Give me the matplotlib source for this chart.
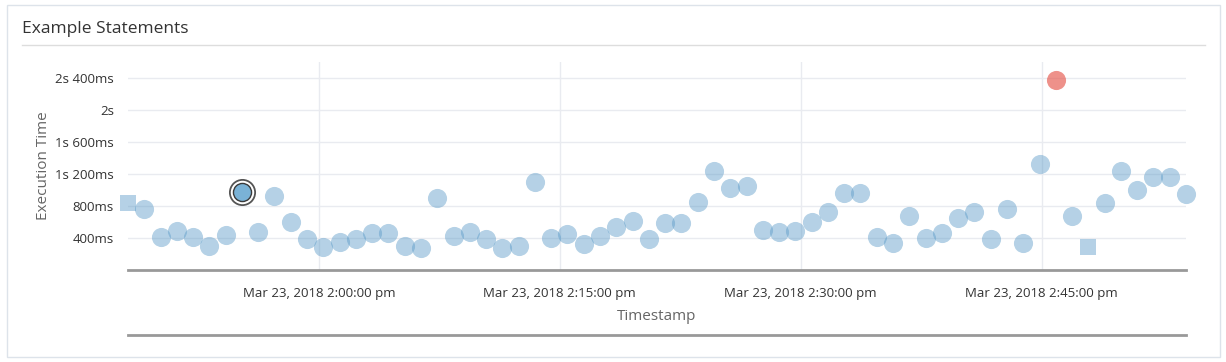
import datetime as dt
import matplotlib
matplotlib.use("Agg")
import matplotlib.pyplot as plt
import matplotlib.dates as mdates
from matplotlib.ticker import FuncFormatter
from matplotlib.lines import Line2D
from matplotlib.patches import Rectangle

plt.rcParams["font.family"] = ["Open Sans", "DejaVu Sans"]

# execution times (ms), one statement roughly every minute
start = dt.datetime(2018, 3, 23, 13, 48, 7)
step_s = 60.8
exec_ms = [834, 766, 417, 492, 417, 304, 442, 979, 471, 929,
           604, 383, 292, 354, 388, 458, 467, 304, 279, 904,
           429, 479, 383, 279, 304, 1104, 404, 446, 325, 429,
           533, 617, 392, 583, 592, 854, 1242, 1029, 1050, 500,
           479, 492, 596, 729, 958, 958, 417, 337, 679, 404,
           467, 646, 721, 383, 758, 342, 1325, 2370, 679, 292,
           842, 1242, 1000, 1167, 1167, 946]
square_idx = [0, 59]
selected_idx = 7
outlier_idx = 57

y_ticks = [400, 800, 1200, 1600, 2000, 2400]
x_ticks = [dt.datetime(2018, 3, 23, 14, m) for m in (0, 15, 30, 45)]

times = [start + dt.timedelta(seconds=step_s * i) for i in range(len(exec_ms))]

fig = plt.figure(figsize=(12.26, 3.62), dpi=100)

# card frame + title
fig.add_artist(Rectangle((7 / 1226, 5 / 362), 1213 / 1226, 352 / 362,
                         transform=fig.transFigure, fill=False,
                         edgecolor="#dde3ea", lw=1))
fig.text(22 / 1226, 1 - 29 / 362, "Example Statements", fontsize=12.5,
         color="#333333", va="center", ha="left")
fig.add_artist(Line2D([22 / 1226, 1205 / 1226], [1 - 45 / 362] * 2,
                      transform=fig.transFigure, color="#dddddd", lw=1))

ax = fig.add_axes([128 / 1226, 1 - 270 / 362, 1058 / 1226, 208 / 362])

blue = "#5b9bc8"
special = square_idx + [selected_idx, outlier_idx]
circ_t = [times[i] for i in range(len(times)) if i not in special]
circ_v = [exec_ms[i] for i in range(len(times)) if i not in special]
ax.scatter(circ_t, circ_v, s=190, color=blue, alpha=0.45, linewidths=0, zorder=3, clip_on=False)
ax.scatter([times[i] for i in square_idx], [exec_ms[i] for i in square_idx], s=135, marker="s",
           color=blue, alpha=0.45, linewidths=0, zorder=3, clip_on=False)
ax.scatter([times[outlier_idx]], [exec_ms[outlier_idx]], s=190, color="#e5574c", alpha=0.65,
           linewidths=0, zorder=3, clip_on=False)
# selected point
ax.scatter([times[selected_idx]], [exec_ms[selected_idx]], s=330, facecolor="white",
           edgecolor="#555555", linewidths=1.3, zorder=4)
ax.scatter([times[selected_idx]], [exec_ms[selected_idx]], s=170, facecolor="#7ab2d6",
           edgecolor="#3a3a3a", linewidths=1.0, zorder=5)

ax.set_xlim(times[0], times[-1])
ax.set_ylim(0, 2600)
ax.set_yticks(y_ticks)
ax.set_xticks(x_ticks)


def fmt_ms(v, pos):
    s, ms = divmod(int(round(v)), 1000)
    if s and ms:
        return f"{s}s {ms}ms"
    if s:
        return f"{s}s"
    return f"{ms}ms"


def fmt_time(v, pos):
    d = mdates.num2date(v)
    h = d.hour % 12 or 12
    return f"Mar {d.day}, {d.year} {h}:{d.minute:02d}:{d.second:02d} " + ("pm" if d.hour >= 12 else "am")


ax.yaxis.set_major_formatter(FuncFormatter(fmt_ms))
ax.xaxis.set_major_formatter(FuncFormatter(fmt_time))

ax.grid(True, color="#e9ebf0", lw=1)
ax.set_axisbelow(True)
for side in ("top", "right", "left"):
    ax.spines[side].set_visible(False)
ax.spines["bottom"].set_color("#999999")
ax.spines["bottom"].set_linewidth(2)
ax.tick_params(axis="both", length=0, labelsize=9.5, colors="#333333")
ax.tick_params(axis="x", pad=12)
ax.tick_params(axis="y", pad=10)
ax.set_xlabel("Timestamp", fontsize=11, color="#666666", labelpad=7)
ax.set_ylabel("Execution Time", fontsize=11, color="#666666", labelpad=3)

# navigator baseline
fig.add_artist(Line2D([128 / 1226, 1186 / 1226], [1 - 335 / 362] * 2,
                      transform=fig.transFigure, color="#999999", lw=2))

fig.savefig("out.png", dpi=100)
